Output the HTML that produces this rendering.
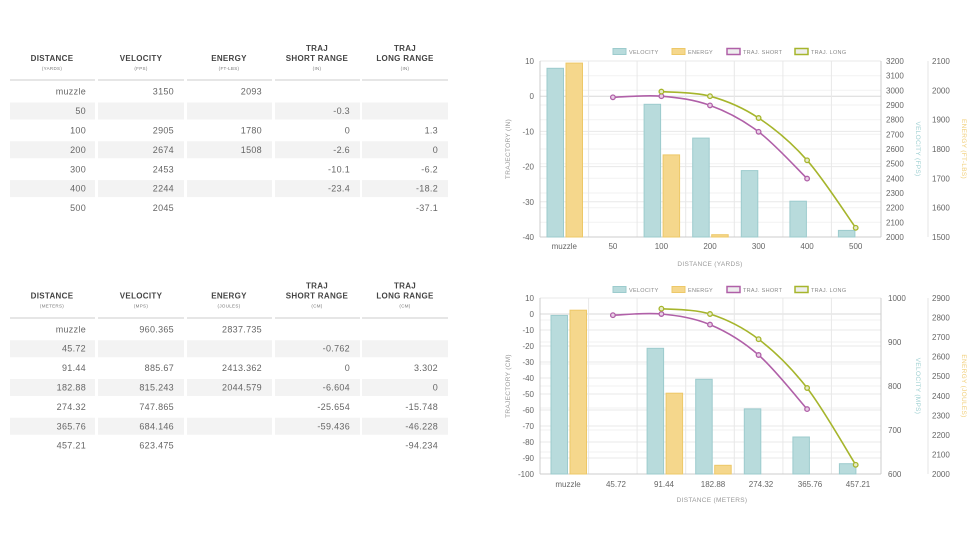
<!DOCTYPE html>
<html><head><meta charset="utf-8"><style>
html,body{margin:0;padding:0;background:#fff;}
svg{display:block;font-family:"Liberation Sans",sans-serif;}
.h{font-size:8px;font-weight:bold;fill:#444;text-anchor:middle;letter-spacing:.3px}
.s{font-size:4.5px;fill:#777;text-anchor:middle;letter-spacing:.3px}
.v{font-size:9px;fill:#666;text-anchor:end;letter-spacing:.3px}
.t{font-size:8px;fill:#666}
.lg{font-size:5.5px;fill:#888;letter-spacing:.3px}
.at{font-size:6.5px;fill:#999;letter-spacing:.3px;text-anchor:middle}
.vb{fill:#b8dbdc;stroke:#9ccbcd;stroke-width:1}
.eb{fill:#f5d78c;stroke:#edc868;stroke-width:1}
.g{stroke:#e8e8e8;stroke-width:1}
</style></head><body>
<svg width="978" height="550" viewBox="0 0 978 550" xmlns="http://www.w3.org/2000/svg">
<!-- TABLE 1 -->
<g>
<text class="h" x="52" y="61">DISTANCE</text><text class="s" x="52" y="70">(YARDS)</text>
<text class="h" x="141" y="61">VELOCITY</text><text class="s" x="141" y="70">(FPS)</text>
<text class="h" x="229" y="61">ENERGY</text><text class="s" x="229" y="70">(FT-LBS)</text>
<text class="h" x="317" y="51">TRAJ</text><text class="h" x="317" y="61">SHORT RANGE</text><text class="s" x="317" y="70">(IN)</text>
<text class="h" x="405" y="51">TRAJ</text><text class="h" x="405" y="61">LONG RANGE</text><text class="s" x="405" y="70">(IN)</text>
<g stroke="#ddd" stroke-width="1.5"><line x1="10" y1="80" x2="95" y2="80"/><line x1="98" y1="80" x2="184" y2="80"/><line x1="187" y1="80" x2="272" y2="80"/><line x1="275" y1="80" x2="360" y2="80"/><line x1="362" y1="80" x2="448" y2="80"/></g>
<g fill="#f3f3f3">
<rect x="10" y="102.5" width="85" height="17"/><rect x="98" y="102.5" width="86" height="17"/><rect x="187" y="102.5" width="85" height="17"/><rect x="275" y="102.5" width="85" height="17"/><rect x="362" y="102.5" width="86" height="17"/>
<rect x="10" y="141.3" width="85" height="17"/><rect x="98" y="141.3" width="86" height="17"/><rect x="187" y="141.3" width="85" height="17"/><rect x="275" y="141.3" width="85" height="17"/><rect x="362" y="141.3" width="86" height="17"/>
<rect x="10" y="180.1" width="85" height="17"/><rect x="98" y="180.1" width="86" height="17"/><rect x="187" y="180.1" width="85" height="17"/><rect x="275" y="180.1" width="85" height="17"/><rect x="362" y="180.1" width="86" height="17"/>
</g>
<text class="v" x="86" y="94.7">muzzle</text><text class="v" x="174" y="94.7">3150</text><text class="v" x="262" y="94.7">2093</text>
<text class="v" x="86" y="114.1">50</text><text class="v" x="350" y="114.1">-0.3</text>
<text class="v" x="86" y="133.5">100</text><text class="v" x="174" y="133.5">2905</text><text class="v" x="262" y="133.5">1780</text><text class="v" x="350" y="133.5">0</text><text class="v" x="438" y="133.5">1.3</text>
<text class="v" x="86" y="152.9">200</text><text class="v" x="174" y="152.9">2674</text><text class="v" x="262" y="152.9">1508</text><text class="v" x="350" y="152.9">-2.6</text><text class="v" x="438" y="152.9">0</text>
<text class="v" x="86" y="172.3">300</text><text class="v" x="174" y="172.3">2453</text><text class="v" x="350" y="172.3">-10.1</text><text class="v" x="438" y="172.3">-6.2</text>
<text class="v" x="86" y="191.7">400</text><text class="v" x="174" y="191.7">2244</text><text class="v" x="350" y="191.7">-23.4</text><text class="v" x="438" y="191.7">-18.2</text>
<text class="v" x="86" y="211.1">500</text><text class="v" x="174" y="211.1">2045</text><text class="v" x="438" y="211.1">-37.1</text>
</g>
<!-- TABLE 2 -->
<g>
<text class="h" x="52" y="298.5">DISTANCE</text><text class="s" x="52" y="307.5">(METERS)</text>
<text class="h" x="141" y="298.5">VELOCITY</text><text class="s" x="141" y="307.5">(MPS)</text>
<text class="h" x="229" y="298.5">ENERGY</text><text class="s" x="229" y="307.5">(JOULES)</text>
<text class="h" x="317" y="288.5">TRAJ</text><text class="h" x="317" y="298.5">SHORT RANGE</text><text class="s" x="317" y="307.5">(CM)</text>
<text class="h" x="405" y="288.5">TRAJ</text><text class="h" x="405" y="298.5">LONG RANGE</text><text class="s" x="405" y="307.5">(CM)</text>
<g stroke="#ddd" stroke-width="1.5"><line x1="10" y1="318" x2="95" y2="318"/><line x1="98" y1="318" x2="184" y2="318"/><line x1="187" y1="318" x2="272" y2="318"/><line x1="275" y1="318" x2="360" y2="318"/><line x1="362" y1="318" x2="448" y2="318"/></g>
<g fill="#f3f3f3">
<rect x="10" y="340.2" width="85" height="17"/><rect x="98" y="340.2" width="86" height="17"/><rect x="187" y="340.2" width="85" height="17"/><rect x="275" y="340.2" width="85" height="17"/><rect x="362" y="340.2" width="86" height="17"/>
<rect x="10" y="379" width="85" height="17"/><rect x="98" y="379" width="86" height="17"/><rect x="187" y="379" width="85" height="17"/><rect x="275" y="379" width="85" height="17"/><rect x="362" y="379" width="86" height="17"/>
<rect x="10" y="417.8" width="85" height="17"/><rect x="98" y="417.8" width="86" height="17"/><rect x="187" y="417.8" width="85" height="17"/><rect x="275" y="417.8" width="85" height="17"/><rect x="362" y="417.8" width="86" height="17"/>
</g>
<text class="v" x="86" y="332.3">muzzle</text><text class="v" x="174" y="332.3">960.365</text><text class="v" x="262" y="332.3">2837.735</text>
<text class="v" x="86" y="351.7">45.72</text><text class="v" x="350" y="351.7">-0.762</text>
<text class="v" x="86" y="371.1">91.44</text><text class="v" x="174" y="371.1">885.67</text><text class="v" x="262" y="371.1">2413.362</text><text class="v" x="350" y="371.1">0</text><text class="v" x="438" y="371.1">3.302</text>
<text class="v" x="86" y="390.5">182.88</text><text class="v" x="174" y="390.5">815.243</text><text class="v" x="262" y="390.5">2044.579</text><text class="v" x="350" y="390.5">-6.604</text><text class="v" x="438" y="390.5">0</text>
<text class="v" x="86" y="409.9">274.32</text><text class="v" x="174" y="409.9">747.865</text><text class="v" x="350" y="409.9">-25.654</text><text class="v" x="438" y="409.9">-15.748</text>
<text class="v" x="86" y="429.3">365.76</text><text class="v" x="174" y="429.3">684.146</text><text class="v" x="350" y="429.3">-59.436</text><text class="v" x="438" y="429.3">-46.228</text>
<text class="v" x="86" y="448.7">457.21</text><text class="v" x="174" y="448.7">623.475</text><text class="v" x="438" y="448.7">-94.234</text>
</g>

<!-- CHART 1 -->
<g>
<rect x="613" y="48.5" width="13" height="6" class="vb"/><text class="lg" x="629" y="54">VELOCITY</text>
<rect x="672" y="48.5" width="13" height="6" class="eb"/><text class="lg" x="688" y="54">ENERGY</text>
<rect x="727" y="48.5" width="13" height="6" fill="#eee" stroke="#b060a8" stroke-width="1.5"/><text class="lg" x="743" y="54">TRAJ. SHORT</text>
<rect x="795" y="48.5" width="13" height="6" fill="#eee" stroke="#a6b52c" stroke-width="1.5"/><text class="lg" x="811" y="54">TRAJ. LONG</text>
<g stroke="#f2f2f2" stroke-width="1">
<line x1="540" y1="75.7" x2="881" y2="75.7"/><line x1="540" y1="90.3" x2="881" y2="90.3"/><line x1="540" y1="105" x2="881" y2="105"/><line x1="540" y1="119.7" x2="881" y2="119.7"/><line x1="540" y1="134.3" x2="881" y2="134.3"/><line x1="540" y1="149" x2="881" y2="149"/><line x1="540" y1="163.7" x2="881" y2="163.7"/><line x1="540" y1="178.3" x2="881" y2="178.3"/><line x1="540" y1="193" x2="881" y2="193"/><line x1="540" y1="207.7" x2="881" y2="207.7"/><line x1="540" y1="222.3" x2="881" y2="222.3"/>
</g>
<g class="g">
<line x1="540" y1="61" x2="881" y2="61"/><line x1="540" y1="96.2" x2="881" y2="96.2" stroke="#d8d8d8"/><line x1="540" y1="131.4" x2="881" y2="131.4"/><line x1="540" y1="166.6" x2="881" y2="166.6"/><line x1="540" y1="201.8" x2="881" y2="201.8"/>
<line x1="588.6" y1="61" x2="588.6" y2="237"/><line x1="637.1" y1="61" x2="637.1" y2="237"/><line x1="685.7" y1="61" x2="685.7" y2="237"/><line x1="734.3" y1="61" x2="734.3" y2="237"/><line x1="782.9" y1="61" x2="782.9" y2="237"/><line x1="831.4" y1="61" x2="831.4" y2="237"/>
</g>
<g stroke="#ccc"><line x1="540" y1="61" x2="540" y2="237"/><line x1="540" y1="237" x2="881" y2="237"/><line x1="881" y1="61" x2="881" y2="237"/><line x1="928" y1="61" x2="928" y2="237" stroke="#e4e4e4"/></g>
<rect class="vb" x="547" y="68.3" width="16.5" height="168.7"/><rect class="eb" x="566" y="63.1" width="16.5" height="173.9"/>
<rect class="vb" x="644.1" y="104.3" width="16.5" height="132.7"/><rect class="eb" x="663.1" y="154.9" width="16.5" height="82.1"/>
<rect class="vb" x="692.7" y="138.1" width="16.5" height="98.9"/><rect class="eb" x="711.7" y="234.7" width="16.5" height="2.3"/>
<rect class="vb" x="741.3" y="170.6" width="16.5" height="66.4"/>
<rect class="vb" x="789.9" y="201.2" width="16.5" height="35.8"/>
<rect class="vb" x="838.4" y="230.4" width="16.5" height="6.6"/>
<path d="M612.9,97.3 C621,97.1 645.2,94.9 661.4,96.2 C677.6,97.55 693.8,99.5 710,105.4 C726.2,111.3 742.4,119.6 758.6,131.8 C774.8,144 799,170.8 807.1,178.6" fill="none" stroke="#b060a8" stroke-width="1.6"/>
<path d="M661.4,91.6 C669.5,92.4 693.8,91.8 710,96.2 C726.2,100.6 742.4,107.3 758.6,118 C774.8,128.7 790.9,142 807.1,160.3 C823.3,178.6 847.6,216.5 855.7,227.8" fill="none" stroke="#a6b52c" stroke-width="1.6"/>
<g fill="#e9d0e6" stroke="#b060a8" stroke-width="1.3"><circle cx="612.9" cy="97.3" r="2.3"/><circle cx="661.4" cy="96.2" r="2.3"/><circle cx="710" cy="105.4" r="2.3"/><circle cx="758.6" cy="131.8" r="2.3"/><circle cx="807.1" cy="178.6" r="2.3"/></g>
<g fill="#e8eccb" stroke="#a6b52c" stroke-width="1.3"><circle cx="661.4" cy="91.6" r="2.3"/><circle cx="710" cy="96.2" r="2.3"/><circle cx="758.6" cy="118" r="2.3"/><circle cx="807.1" cy="160.3" r="2.3"/><circle cx="855.7" cy="227.8" r="2.3"/></g>
<g class="t" text-anchor="end"><text x="534" y="64">10</text><text x="534" y="99.2">0</text><text x="534" y="134.4">-10</text><text x="534" y="169.6">-20</text><text x="534" y="204.8">-30</text><text x="534" y="240">-40</text></g>
<g class="t" text-anchor="middle"><text x="564.3" y="249">muzzle</text><text x="612.9" y="249">50</text><text x="661.4" y="249">100</text><text x="710" y="249">200</text><text x="758.6" y="249">300</text><text x="807.1" y="249">400</text><text x="855.7" y="249">500</text></g>
<g class="t"><text x="886" y="64">3200</text><text x="886" y="78.7">3100</text><text x="886" y="93.3">3000</text><text x="886" y="108">2900</text><text x="886" y="122.7">2800</text><text x="886" y="137.3">2700</text><text x="886" y="152">2600</text><text x="886" y="166.7">2500</text><text x="886" y="181.3">2400</text><text x="886" y="196">2300</text><text x="886" y="210.7">2200</text><text x="886" y="225.3">2100</text><text x="886" y="240">2000</text></g>
<g class="t"><text x="932" y="64">2100</text><text x="932" y="93.3">2000</text><text x="932" y="122.7">1900</text><text x="932" y="152">1800</text><text x="932" y="181.3">1700</text><text x="932" y="210.7">1600</text><text x="932" y="240">1500</text></g>
<text class="at" x="710" y="266">DISTANCE (YARDS)</text>
<text class="at" transform="translate(510,149) rotate(-90)">TRAJECTORY (IN)</text>
<text class="at" style="fill:#9fd0d2" transform="translate(916,149) rotate(90)">VELOCITY (FPS)</text>
<text class="at" style="fill:#f1cf7a" transform="translate(962,149) rotate(90)">ENERGY (FT-LBS)</text>
</g>

<!-- CHART 2 -->
<g>
<rect x="613" y="286.5" width="13" height="6" class="vb"/><text class="lg" x="629" y="292">VELOCITY</text>
<rect x="672" y="286.5" width="13" height="6" class="eb"/><text class="lg" x="688" y="292">ENERGY</text>
<rect x="727" y="286.5" width="13" height="6" fill="#eee" stroke="#b060a8" stroke-width="1.5"/><text class="lg" x="743" y="292">TRAJ. SHORT</text>
<rect x="795" y="286.5" width="13" height="6" fill="#eee" stroke="#a6b52c" stroke-width="1.5"/><text class="lg" x="811" y="292">TRAJ. LONG</text>
<g stroke="#f2f2f2"><line x1="540" y1="320" x2="881" y2="320"/><line x1="540" y1="342" x2="881" y2="342"/><line x1="540" y1="364" x2="881" y2="364"/><line x1="540" y1="386" x2="881" y2="386"/><line x1="540" y1="408" x2="881" y2="408"/><line x1="540" y1="430" x2="881" y2="430"/><line x1="540" y1="452" x2="881" y2="452"/></g>
<g class="g">
<line x1="540" y1="298" x2="881" y2="298"/><line x1="540" y1="314" x2="881" y2="314" stroke="#d8d8d8"/><line x1="540" y1="330" x2="881" y2="330"/><line x1="540" y1="346" x2="881" y2="346"/><line x1="540" y1="362" x2="881" y2="362"/><line x1="540" y1="378" x2="881" y2="378"/><line x1="540" y1="394" x2="881" y2="394"/><line x1="540" y1="410" x2="881" y2="410"/><line x1="540" y1="426" x2="881" y2="426"/><line x1="540" y1="442" x2="881" y2="442"/><line x1="540" y1="458" x2="881" y2="458"/>
<line x1="588.6" y1="298" x2="588.6" y2="474"/><line x1="637.1" y1="298" x2="637.1" y2="474"/><line x1="685.7" y1="298" x2="685.7" y2="474"/><line x1="734.3" y1="298" x2="734.3" y2="474"/><line x1="782.9" y1="298" x2="782.9" y2="474"/><line x1="831.4" y1="298" x2="831.4" y2="474"/>
</g>
<g stroke="#ccc"><line x1="540" y1="298" x2="540" y2="474"/><line x1="540" y1="474" x2="881" y2="474"/><line x1="881" y1="298" x2="881" y2="474"/><line x1="928" y1="298" x2="928" y2="474" stroke="#e4e4e4"/></g>
<rect class="vb" x="551" y="315.4" width="16.5" height="158.6"/><rect class="eb" x="570" y="310.2" width="16.5" height="163.8"/>
<rect class="vb" x="647.1" y="348.3" width="16.5" height="125.7"/><rect class="eb" x="666.1" y="393.2" width="16.5" height="80.8"/>
<rect class="vb" x="695.7" y="379.3" width="16.5" height="94.7"/><rect class="eb" x="714.7" y="465.3" width="16.5" height="8.7"/>
<rect class="vb" x="744.3" y="408.9" width="16.5" height="65.1"/>
<rect class="vb" x="792.9" y="437" width="16.5" height="37"/>
<rect class="vb" x="839.4" y="463.7" width="16.5" height="10.3"/>
<path d="M612.9,315.2 C621,315 645.2,312.4 661.4,314 C677.6,315.6 693.8,317.8 710,324.6 C726.2,331.4 742.4,340.9 758.6,355 C774.8,369.1 799,400.1 807.1,409.1" fill="none" stroke="#b060a8" stroke-width="1.6"/>
<path d="M661.4,308.7 C669.5,309.6 693.8,308.9 710,314 C726.2,319.1 742.4,326.9 758.6,339.2 C774.8,351.5 790.9,367.1 807.1,388 C823.3,408.9 847.6,452 855.7,464.8" fill="none" stroke="#a6b52c" stroke-width="1.6"/>
<g fill="#e9d0e6" stroke="#b060a8" stroke-width="1.3"><circle cx="612.9" cy="315.2" r="2.3"/><circle cx="661.4" cy="314" r="2.3"/><circle cx="710" cy="324.6" r="2.3"/><circle cx="758.6" cy="355" r="2.3"/><circle cx="807.1" cy="409.1" r="2.3"/></g>
<g fill="#e8eccb" stroke="#a6b52c" stroke-width="1.3"><circle cx="661.4" cy="308.7" r="2.3"/><circle cx="710" cy="314" r="2.3"/><circle cx="758.6" cy="339.2" r="2.3"/><circle cx="807.1" cy="388" r="2.3"/><circle cx="855.7" cy="464.8" r="2.3"/></g>
<g class="t" text-anchor="end"><text x="534" y="301">10</text><text x="534" y="317">0</text><text x="534" y="333">-10</text><text x="534" y="349">-20</text><text x="534" y="365">-30</text><text x="534" y="381">-40</text><text x="534" y="397">-50</text><text x="534" y="413">-60</text><text x="534" y="429">-70</text><text x="534" y="445">-80</text><text x="534" y="461">-90</text><text x="534" y="477">-100</text></g>
<g class="t" text-anchor="middle"><text x="568" y="487">muzzle</text><text x="616" y="487">45.72</text><text x="664" y="487">91.44</text><text x="713" y="487">182.88</text><text x="761" y="487">274.32</text><text x="810" y="487">365.76</text><text x="858" y="487">457.21</text></g>
<g class="t"><text x="888" y="301">1000</text><text x="888" y="345">900</text><text x="888" y="389">800</text><text x="888" y="433">700</text><text x="888" y="477">600</text></g>
<g class="t"><text x="932" y="301">2900</text><text x="932" y="320.6">2800</text><text x="932" y="340.1">2700</text><text x="932" y="359.7">2600</text><text x="932" y="379.2">2500</text><text x="932" y="398.8">2400</text><text x="932" y="418.3">2300</text><text x="932" y="437.9">2200</text><text x="932" y="457.4">2100</text><text x="932" y="477">2000</text></g>
<text class="at" x="712" y="502">DISTANCE (METERS)</text>
<text class="at" transform="translate(510,386) rotate(-90)">TRAJECTORY (CM)</text>
<text class="at" style="fill:#9fd0d2" transform="translate(916,386) rotate(90)">VELOCITY (MPS)</text>
<text class="at" style="fill:#f1cf7a" transform="translate(962,386) rotate(90)">ENERGY (JOULES)</text>
</g>
</svg>
</body></html>
